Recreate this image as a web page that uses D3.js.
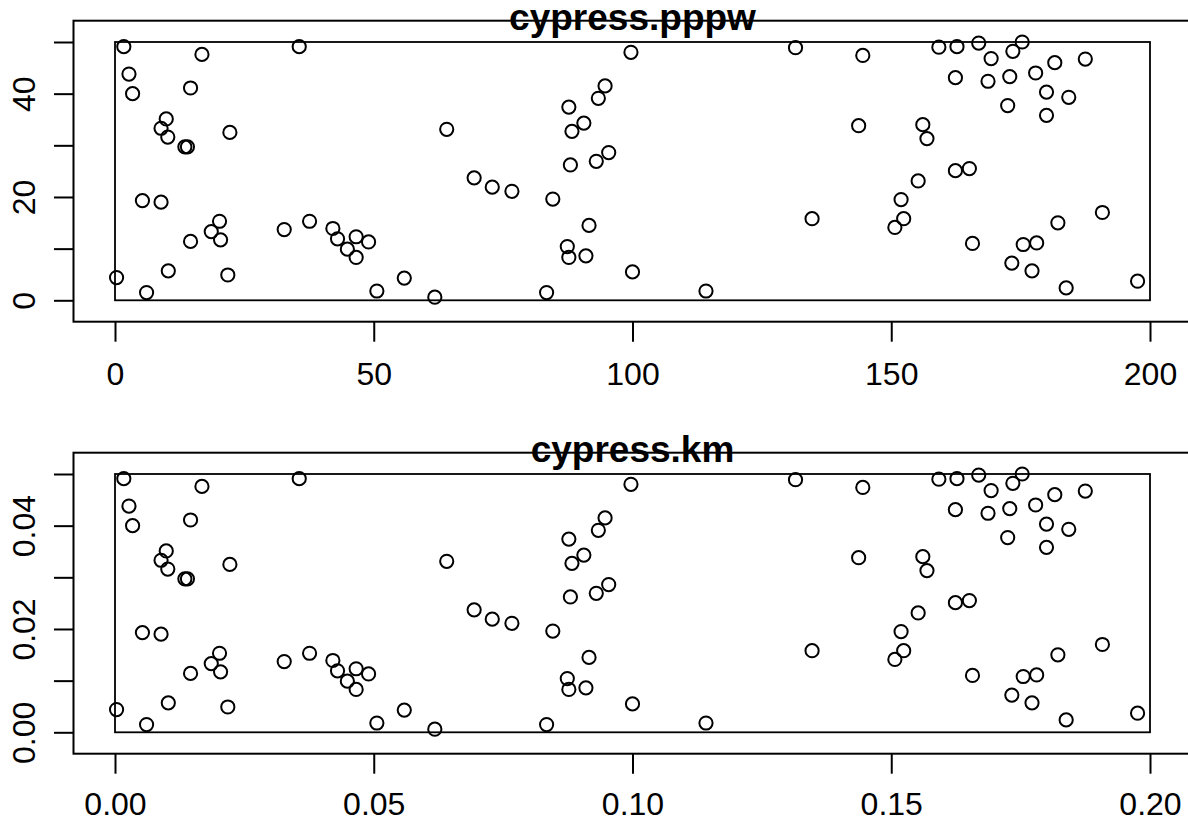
<!DOCTYPE html>
<html>
<head>
<meta charset="utf-8">
<script src="https://cdn.jsdelivr.net/npm/d3@7"></script>
<style>
	body { margin: 0; background: #fff; }
	svg { display: block; font-family: "Liberation Sans", Arial, sans-serif; }
</style>
</head>
<body>
<div id="chart"></div>
<script>
// point coordinates of the cypress pattern (metres)
var ptX = [1.7, 16.8, 35.6, 2.7, 3.4, 14.6, 9.9, 8.9, 10.2, 13.5, 14.0, 22.2, 5.3, 8.9, 20.2, 18.6, 20.4, 14.6,
	32.7, 37.6, 42.1, 43.0, 44.9, 46.6, 46.6, 0.3, 10.3, 6.1, 21.8, 49.0, 50.6, 55.9, 61.8, 64.1, 69.4, 72.9,
	76.7, 84.6, 83.4, 87.4, 87.7, 91.0, 91.6, 88.0, 93.0, 95.4, 88.3, 90.6, 87.7, 93.4, 94.7, 99.7, 100.0,
	114.2, 131.5, 144.5, 143.7, 134.7, 156.1, 156.9, 155.2, 151.9, 152.4, 150.7, 159.2, 162.7, 166.9, 175.3,
	173.5, 169.3, 181.6, 187.5, 162.4, 168.7, 172.9, 177.9, 180.0, 184.3, 172.5, 180.0, 162.4, 165.1, 190.8,
	182.2, 165.7, 175.5, 178.1, 173.3, 177.2, 183.8, 197.6];
var ptY = [49.1, 47.6, 49.1, 43.8, 40.0, 41.1, 35.1, 33.3, 31.6, 29.7, 29.7, 32.5, 19.3, 19.0, 15.3, 13.3, 11.7, 11.4,
	13.7, 15.3, 13.9, 11.9, 9.9, 12.3, 8.3, 4.4, 5.7, 1.5, 4.9, 11.3, 1.8, 4.3, 0.6, 33.1, 23.7, 21.9,
	21.1, 19.6, 1.5, 10.4, 8.3, 8.6, 14.5, 26.2, 26.9, 28.6, 32.7, 34.3, 37.4, 39.1, 41.5, 48.0, 5.5,
	1.8, 48.9, 47.4, 33.8, 15.8, 34.0, 31.3, 23.1, 19.5, 15.8, 14.1, 49.0, 49.1, 49.8, 50.0,
	48.2, 46.8, 46.0, 46.7, 43.1, 42.4, 43.3, 44.0, 40.3, 39.3, 37.7, 35.8, 25.1, 25.5, 17.0,
	15.0, 11.0, 10.8, 11.1, 7.2, 5.7, 2.4, 3.7];

var titles = ["cypress.pppw", "cypress.km"];
var unitScale = [1, 0.001];
var xTicks = [0, 50, 100, 150, 200];
var yTicks = [0, 10, 20, 30, 40, 50];
var yLabelled = [0, 20, 40];
var tickFormats = [d3.format("d"), d3.format(".2f")];

var W = 1188, H = 822;

var svg = d3.select("#chart").append("svg")
	.attr("width", W)
	.attr("height", H);

function drawPanel(i) {
	var k = unitScale[i];
	var fmt = tickFormats[i];
	var g = svg.append("g")
		.attr("transform", "translate(0," + (i * 432) + ")");

	var x = d3.scaleLinear().domain([0, 200 * k]).range([115, 1150]);
	var y = d3.scaleLinear().domain([0, 50 * k]).range([300.3, 42]);

	// outer plot box (runs off the right edge like the original)
	g.append("rect")
		.attr("x", 73.5).attr("y", 20.7)
		.attr("width", 1118).attr("height", 301)
		.attr("fill", "none").attr("stroke", "#000").attr("stroke-width", 2);

	// window of the point pattern
	g.append("rect")
		.attr("x", x(0)).attr("y", y(50 * k))
		.attr("width", x(200 * k) - x(0)).attr("height", y(0) - y(50 * k))
		.attr("fill", "none").attr("stroke", "#000").attr("stroke-width", 1.8);

	// x axis
	var xa = g.append("g")
		.attr("transform", "translate(0,321.7)")
		.call(d3.axisBottom(x)
			.tickValues(xTicks.map(function(d) { return d * k; }))
			.tickSize(20)
			.tickFormat(fmt));
	xa.select(".domain").remove();
	xa.selectAll("line").attr("stroke", "#000").attr("stroke-width", 2);
	xa.selectAll("text")
		.attr("y", i == 0 ? 63.5 : 61.5).attr("dy", 0)
		.attr("fill", "#000")
		.style("font-size", "32px");

	// y axis, rotated labels on every other tick
	var ya = g.append("g")
		.attr("transform", "translate(73.5,0)")
		.call(d3.axisLeft(y)
			.tickValues(yTicks.map(function(d) { return d * k; }))
			.tickSize(19.5)
			.tickFormat(function(d) {
				var v = Math.round(d / k);
				return yLabelled.indexOf(v) >= 0 ? fmt(d) : "";
			}));
	ya.select(".domain").remove();
	ya.selectAll("line").attr("stroke", "#000").attr("stroke-width", 2);
	ya.selectAll("text")
		.attr("transform", "rotate(-90)")
		.attr("x", 0).attr("y", -38.5).attr("dy", 0)
		.attr("text-anchor", "middle")
		.attr("fill", "#000")
		.style("font-size", "32px");

	// points
	g.append("g").selectAll("circle")
		.data(ptX)
		.enter().append("circle")
		.attr("cx", function(d) { return x(d * k); })
		.attr("cy", function(d, j) { return y(ptY[j] * k); })
		.attr("r", 6.6)
		.attr("fill", "none")
		.attr("stroke", "#000")
		.attr("stroke-width", 2);

	// title, drawn over the box line
	g.append("text")
		.attr("x", 632.5).attr("y", 30)
		.attr("text-anchor", "middle")
		.style("font-size", "37px")
		.style("font-weight", "bold")
		.text(titles[i]);
}

drawPanel(0);
drawPanel(1);
</script>
</body>
</html>
